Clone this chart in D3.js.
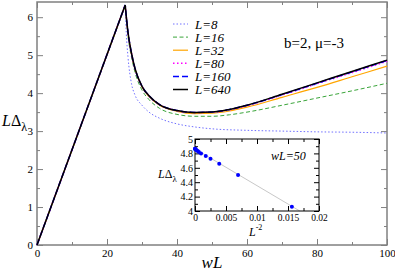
<!DOCTYPE html>
<html>
<head>
<meta charset="utf-8">
<script src="https://cdn.jsdelivr.net/npm/d3@7"></script>
<style>
  body { margin: 0; background: #fff; }
  svg text { font-family: "Liberation Serif", "Times New Roman", "DejaVu Serif", serif; }
</style>
</head>
<body>
<script>
// main plot data: wL samples and L*Delta for each system size
var wL8   = [0, 25.2, 25.5, 26, 27, 28, 30, 32, 35, 40, 45, 50, 60, 70, 80, 90, 100];
var val8  = [0, 6.3, 5.6, 4.95, 4.25, 3.95, 3.68, 3.5, 3.34, 3.19, 3.11, 3.06, 3.02, 3.0, 2.98, 2.97, 2.95];
var wLbig = [0, 25.2, 26, 27, 28, 30, 32, 35, 40, 45, 50, 55, 60, 70, 80, 90, 100];
var val16  = [0, 6.3, 5.5, 4.95, 4.55, 4.08, 3.83, 3.6, 3.44, 3.39, 3.39, 3.43, 3.5, 3.68, 3.87, 4.06, 4.26];
var val32  = [0, 6.31, 5.58, 5.03, 4.63, 4.16, 3.91, 3.68, 3.52, 3.46, 3.47, 3.53, 3.63, 3.89, 4.15, 4.43, 4.71];
var val80  = [0, 6.32, 5.6, 5.05, 4.65, 4.18, 3.93, 3.7, 3.54, 3.49, 3.5, 3.56, 3.67, 3.95, 4.25, 4.54, 4.84];
var val160 = [0, 6.32, 5.6, 5.05, 4.65, 4.18, 3.93, 3.7, 3.54, 3.49, 3.5, 3.57, 3.68, 3.96, 4.26, 4.56, 4.86];
var val640 = [0, 6.32, 5.6, 5.05, 4.65, 4.18, 3.93, 3.7, 3.54, 3.49, 3.5, 3.57, 3.68, 3.97, 4.27, 4.57, 4.87];

var seriesNames = ["L=8", "L=16", "L=32", "L=80", "L=160", "L=640"];
var seriesX = [wL8, wLbig, wLbig, wLbig, wLbig, wLbig];
var seriesY = [val8, val16, val32, val80, val160, val640];
var seriesColor = ["#7070ff", "#3aa53a", "#ffa500", "#ff00ff", "#0000ff", "#000000"];
var seriesDash  = ["1.5,2", "4,2.5", null, "1.5,2.5", "6,3", null];
var seriesWidth = [1, 1, 1.2, 1.5, 1.5, 1.5];

// inset: L*Delta at wL=50 vs L^-2
var insetL   = [8, 12, 16, 20, 24, 32, 40, 48, 64, 80, 160, 320, 640];
var insetVal = [4.06, 4.50, 4.655, 4.725, 4.765, 4.80, 4.82, 4.833, 4.845, 4.852, 4.86, 4.863, 4.865];
var fitIntercept = 4.862, fitSlope = -51;

var W = 395, H = 271;
var serif = "Liberation Serif, Times New Roman, DejaVu Serif, serif";
var svg = d3.select("body").append("svg").attr("width", W).attr("height", H);

var x = d3.scaleLinear().domain([0, 100]).range([37, 387]);
var y = d3.scaleLinear().domain([0, 6.4]).range([245, 2]);

var gray = "#808080";

function styleAxis(g, color) {
    g.attr("font-family", serif);
    g.select(".domain").remove();
    g.selectAll("line").attr("stroke", color);
    g.selectAll("text").attr("fill", "#000").attr("font-family", serif);
}

// main axes, ticks pointing inward on all four sides
var xMajor = [0, 20, 40, 60, 80, 100], xMinor = [10, 30, 50, 70, 90];
var yMajor = [0, 1, 2, 3, 4, 5, 6], yMinor = [0.5, 1.5, 2.5, 3.5, 4.5, 5.5];

svg.append("g").attr("transform", "translate(0,245)")
    .call(d3.axisBottom(x).tickValues(xMajor).tickSize(-6).tickPadding(4).tickFormat(d3.format("d")))
    .call(styleAxis, gray).attr("font-size", 11);
svg.append("g").attr("transform", "translate(0,245)")
    .call(d3.axisBottom(x).tickValues(xMinor).tickSize(-3).tickFormat(""))
    .call(styleAxis, gray);
svg.append("g").attr("transform", "translate(0,2)")
    .call(d3.axisTop(x).tickValues(xMajor).tickSize(-6).tickFormat(""))
    .call(styleAxis, gray);
svg.append("g").attr("transform", "translate(0,2)")
    .call(d3.axisTop(x).tickValues(xMinor).tickSize(-3).tickFormat(""))
    .call(styleAxis, gray);
svg.append("g").attr("transform", "translate(37,0)")
    .call(d3.axisLeft(y).tickValues(yMajor).tickSize(-6).tickPadding(4).tickFormat(d3.format("d")))
    .call(styleAxis, gray).attr("font-size", 11);
svg.append("g").attr("transform", "translate(37,0)")
    .call(d3.axisLeft(y).tickValues(yMinor).tickSize(-3).tickFormat(""))
    .call(styleAxis, gray);
svg.append("g").attr("transform", "translate(387,0)")
    .call(d3.axisRight(y).tickValues(yMajor).tickSize(-6).tickFormat(""))
    .call(styleAxis, gray);
svg.append("g").attr("transform", "translate(387,0)")
    .call(d3.axisRight(y).tickValues(yMinor).tickSize(-3).tickFormat(""))
    .call(styleAxis, gray);

svg.append("rect")
    .attr("x", 37).attr("y", 2)
    .attr("width", 350).attr("height", 243)
    .attr("fill", "none").attr("stroke", gray).attr("stroke-width", 1.5);

// curves: straight rise up to the cusp, smooth decay after it
var riseLine = d3.line();
var decayLine = d3.line().curve(d3.curveMonotoneX);
seriesNames.forEach(function(name, i) {
    var pts = seriesX[i].map(function(v, j) { return [x(v), y(seriesY[i][j])]; });
    var d = riseLine(pts.slice(0, 2)) + decayLine(pts.slice(1)).replace(/^M/, "L");
    svg.append("path")
        .attr("d", d)
        .attr("fill", "none")
        .attr("stroke", seriesColor[i])
        .attr("stroke-width", seriesWidth[i])
        .attr("stroke-linejoin", "miter")
        .attr("stroke-dasharray", seriesDash[i]);
});

// legend
var legend = svg.append("g").attr("transform", "translate(173,24)");
seriesNames.forEach(function(name, i) {
    var row = legend.append("g").attr("transform", "translate(0," + (i * 13.1) + ")");
    row.append("line")
        .attr("x1", 0).attr("x2", 15).attr("y1", 0).attr("y2", 0)
        .attr("stroke", seriesColor[i])
        .attr("stroke-width", seriesWidth[i])
        .attr("stroke-dasharray", seriesDash[i]);
    row.append("text")
        .attr("x", 22).attr("y", 4.5)
        .attr("font-family", serif)
        .style("font-size", "13px").style("font-style", "italic")
        .text(name);
});

svg.append("text").attr("x", 284).attr("y", 48)
    .attr("font-family", serif)
    .style("font-size", "15px")
    .text("b=2, \u03bc=-3");

// axis labels
svg.append("text").attr("x", 212).attr("y", 268)
    .attr("text-anchor", "middle")
    .attr("font-family", serif)
    .style("font-size", "17px").style("font-style", "italic")
    .text("wL");
var yl = svg.append("text").attr("x", 2).attr("y", 126)
    .attr("font-family", serif).style("font-size", "16px");
yl.append("tspan").style("font-style", "italic").text("L");
yl.append("tspan").text("\u0394");
yl.append("tspan").attr("dy", 5).style("font-size", "12px").text("\u03bb");

// inset
var ix = d3.scaleLinear().domain([0, 0.02]).range([195, 319]);
var iy = d3.scaleLinear().domain([4, 5]).range([211, 139]);

svg.append("rect")
    .attr("x", 195).attr("y", 139).attr("width", 124).attr("height", 72)
    .attr("fill", "#fff");

var fitEnd = (4 - fitIntercept) / fitSlope;
svg.append("line")
    .attr("x1", ix(0)).attr("y1", iy(fitIntercept))
    .attr("x2", ix(fitEnd)).attr("y2", iy(fitIntercept + fitSlope * fitEnd))
    .attr("stroke", "#c8c8c8").attr("stroke-width", 1);

var ixMajor = [0, 0.005, 0.01, 0.015, 0.02], ixMinor = [0.0025, 0.0075, 0.0125, 0.0175];
var iyMajor = [4, 4.2, 4.4, 4.6, 4.8, 5], iyMinor = [4.1, 4.3, 4.5, 4.7, 4.9];

svg.append("g").attr("transform", "translate(0,211)")
    .call(d3.axisBottom(ix).tickValues(ixMajor).tickSize(-5).tickPadding(3)
        .tickFormat(function(d) { return String(+d.toFixed(3)); }))
    .call(styleAxis, "#000").attr("font-size", 9.5);
svg.append("g").attr("transform", "translate(0,211)")
    .call(d3.axisBottom(ix).tickValues(ixMinor).tickSize(-3).tickFormat(""))
    .call(styleAxis, "#000");
svg.append("g").attr("transform", "translate(0,139)")
    .call(d3.axisTop(ix).tickValues(ixMajor).tickSize(-5).tickFormat(""))
    .call(styleAxis, "#000");
svg.append("g").attr("transform", "translate(0,139)")
    .call(d3.axisTop(ix).tickValues(ixMinor).tickSize(-3).tickFormat(""))
    .call(styleAxis, "#000");
svg.append("g").attr("transform", "translate(195,0)")
    .call(d3.axisLeft(iy).tickValues(iyMajor).tickSize(-5).tickPadding(2)
        .tickFormat(function(d) { return String(+d.toFixed(1)); }))
    .call(styleAxis, "#000").attr("font-size", 10);
svg.append("g").attr("transform", "translate(195,0)")
    .call(d3.axisLeft(iy).tickValues(iyMinor).tickSize(-3).tickFormat(""))
    .call(styleAxis, "#000");
svg.append("g").attr("transform", "translate(319,0)")
    .call(d3.axisRight(iy).tickValues(iyMajor).tickSize(-5).tickFormat(""))
    .call(styleAxis, "#000");
svg.append("g").attr("transform", "translate(319,0)")
    .call(d3.axisRight(iy).tickValues(iyMinor).tickSize(-3).tickFormat(""))
    .call(styleAxis, "#000");

svg.append("rect")
    .attr("x", 195).attr("y", 139).attr("width", 124).attr("height", 72)
    .attr("fill", "none").attr("stroke", "#000").attr("stroke-width", 1);

svg.selectAll(".insetPt")
    .data(insetL)
    .enter()
    .append("circle")
    .attr("class", "insetPt")
    .attr("cx", function(d) { return ix(1 / (d * d)); })
    .attr("cy", function(d, i) { return iy(insetVal[i]); })
    .attr("r", 2)
    .attr("fill", "#0000ff");

svg.append("text").attr("x", 271).attr("y", 160)
    .attr("font-family", serif)
    .style("font-size", "12px").style("font-style", "italic")
    .text("wL=50");
var il = svg.append("text").attr("x", 158).attr("y", 178)
    .attr("font-family", serif).style("font-size", "12px");
il.append("tspan").style("font-style", "italic").text("L");
il.append("tspan").text("\u0394");
il.append("tspan").attr("dy", 4).style("font-size", "9px").text("\u03bb");
var xl = svg.append("text").attr("x", 249).attr("y", 236)
    .attr("font-family", serif).style("font-size", "12px");
xl.append("tspan").style("font-style", "italic").text("L");
xl.append("tspan").attr("dy", -6).style("font-size", "8px").text("-2");
</script>
</body>
</html>
